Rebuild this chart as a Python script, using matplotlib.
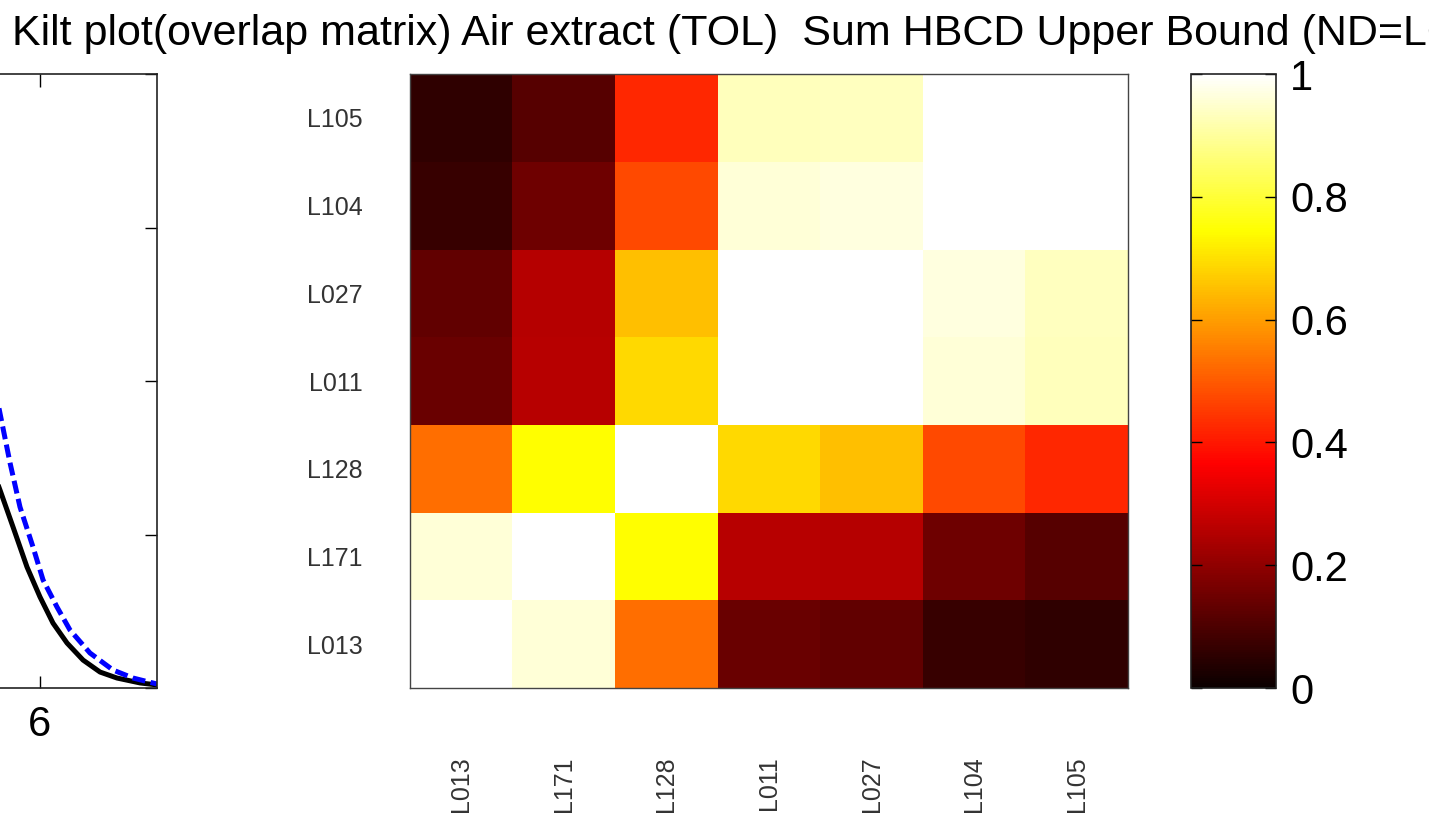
import numpy as np
import matplotlib
matplotlib.use('Agg')
import matplotlib.pyplot as plt

plt.rcParams['font.family'] = ['Liberation Sans', 'DejaVu Sans']

# overlap matrix, rows/cols from bottom (L013) to top (L105)
labels = ['L013', 'L171', 'L128', 'L011', 'L027', 'L104', 'L105']
row_L013 = [1.00, 0.96, 0.53, 0.143, 0.13, 0.07, 0.055]
row_L171 = [0.96, 1.00, 0.746, 0.26, 0.255, 0.15, 0.115]
row_L128 = [0.53, 0.746, 1.00, 0.69, 0.65, 0.475, 0.425]
row_L011 = [0.143, 0.26, 0.69, 1.00, 1.00, 0.96, 0.93]
row_L027 = [0.13, 0.255, 0.65, 1.00, 1.00, 0.965, 0.935]
row_L104 = [0.07, 0.15, 0.475, 0.96, 0.965, 1.00, 1.00]
row_L105 = [0.055, 0.115, 0.425, 0.93, 0.935, 1.00, 1.00]
overlap = np.array([row_L013, row_L171, row_L128, row_L011,
                    row_L027, row_L104, row_L105])

# tail of the two density curves on the left panel
x_black = [5.5, 5.658, 5.769, 5.889, 6.0, 6.111, 6.231, 6.368, 6.513, 6.658, 6.855, 7.0]
y_black = [0.162, 0.129, 0.105, 0.0788, 0.0593, 0.0423, 0.0293, 0.0182, 0.0104, 0.0065, 0.0033, 0.002]
x_blue = [5.5, 5.658, 5.744, 5.829, 5.940, 6.026, 6.145, 6.256, 6.427, 6.624, 6.795, 7.0]
y_blue = [0.239, 0.179, 0.1466, 0.1179, 0.0919, 0.0704, 0.0528, 0.0378, 0.0228, 0.0117, 0.0065, 0.0026]
left_xticks = [0, 2, 4, 6]
left_xticklabels = ['', '', '', '6']   # only "6" is inside the picture

title = 'Kilt plot(overlap matrix) Air extract (TOL)  Sum HBCD Upper Bound (ND=LOD)'

W, H = 1429, 821
fig = plt.figure(figsize=(W / 100, H / 100), dpi=100)

def px_axes(x0, y0, x1, y1):
    return fig.add_axes([x0 / W, 1 - y1 / H, (x1 - x0) / W, (y1 - y0) / H])

# left panel (mostly outside the picture)
ax0 = px_axes(40 - 6 * 117, 74, 157, 688)
ax0.plot(x_black, y_black, color='black', lw=3.6)
ax0.plot(x_blue, y_blue, color='blue', lw=3.6, ls='--', dashes=(2.6, 1.1))
ax0.set_xlim(0, 7)
ax0.set_ylim(0, 0.4)
ax0.set_xticks(left_xticks)
ax0.set_xticklabels(left_xticklabels)
ax0.set_yticks([0, 0.1, 0.2, 0.3, 0.4])
ax0.set_yticklabels([])
ax0.tick_params(direction='in', top=True, right=True, length=9, width=1,
                labelsize=30, pad=12)
for s in ax0.spines.values():
    s.set_linewidth(1.2)
    s.set_color('#222222')

# heatmap
ax = px_axes(410, 74, 1128, 688)
im = ax.imshow(overlap, cmap='hot', vmin=0, vmax=1, origin='lower',
               aspect='auto', interpolation='nearest')
ax.set_xticks(range(len(labels)))
ax.set_xticklabels(labels, rotation=90)
ax.set_yticks(range(len(labels)))
ax.set_yticklabels(labels)
ax.tick_params(length=0, labelsize=18, labelcolor='#333333')
ax.tick_params(axis='y', pad=34)
ax.tick_params(axis='x', pad=49)
for s in ax.spines.values():
    s.set_linewidth(1)
    s.set_color('#444444')

# colorbar
cax = px_axes(1191, 74, 1276, 688)
cb = fig.colorbar(im, cax=cax)
cb.set_ticks([0, 0.2, 0.4, 0.6, 0.8, 1])
cb.set_ticklabels(['0', '0.2', '0.4', '0.6', '0.8', '1'])
cax.tick_params(direction='in', left=True, right=True, length=8, width=1,
                labelsize=30, pad=10)
cb.outline.set_linewidth(1.2)
cb.outline.set_edgecolor('#222222')

fig.text(12 / W, 1 - 45 / H, title, ha='left', va='baseline', fontsize=31)

fig.savefig('out.png', dpi=100)
